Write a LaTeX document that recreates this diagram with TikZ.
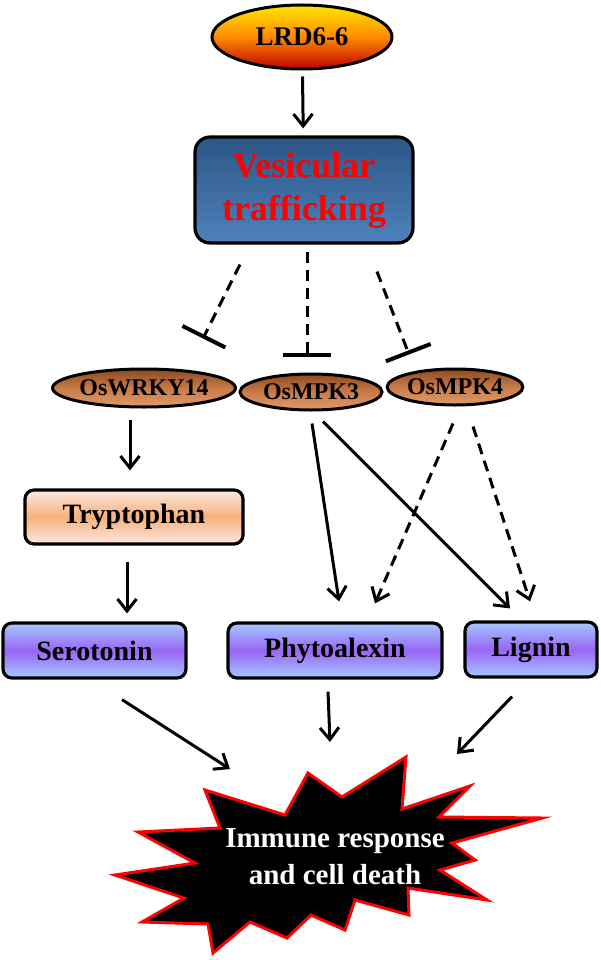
\documentclass[tikz,border=0pt]{standalone}
\usepackage{fontspec}
\setmainfont{Liberation Serif}
\usetikzlibrary{arrows.meta,shapes.geometric,calc}
\definecolor{vesTop}{HTML}{2B5785}
\definecolor{vesBot}{HTML}{4F81BD}
\definecolor{lrdTop}{HTML}{FFE600}
\definecolor{lrdMid}{HTML}{FF8A00}
\definecolor{lrdBot}{HTML}{C00000}
\definecolor{brTop}{HTML}{8B4A20}
\definecolor{brMid}{HTML}{C97A48}
\definecolor{brBot}{HTML}{DE9A6C}
\definecolor{trTop}{HTML}{FDE9E1}
\definecolor{trMid}{HTML}{F7B07C}
\definecolor{puTop}{HTML}{A6C8FF}
\definecolor{puMid}{HTML}{9966F5}
\definecolor{redtxt}{HTML}{FF0000}
\tikzset{
  arr/.style={line width=3pt, -{Straight Barb[length=12pt,width=19pt]}},
  darr/.style={arr, dash pattern=on 11pt off 7pt},
  inh/.style={line width=3pt, dash pattern=on 11pt off 7pt, -{Bar[width=48pt,line width=4pt]}},
  ell/.style={ellipse, draw=black, line width=3pt, inner sep=0pt, font=\bfseries\fontsize{24}{26}\selectfont},
  brown/.style={ell, top color=brTop, bottom color=brBot, middle color=brMid},
  box/.style={rectangle, rounded corners=9pt, draw=black, line width=3.2pt, inner sep=0pt, font=\bfseries\fontsize{28}{30}\selectfont},
  purple/.style={box, top color=puTop, bottom color=puTop, middle color=puMid}
}
\begin{document}
\begin{tikzpicture}[x=1pt,y=-1pt]
\useasboundingbox (0,0) rectangle (601,960);
% nodes
\node[ell, minimum width=180pt, minimum height=64pt, top color=lrdTop, bottom color=lrdBot, middle color=lrdMid,
      font=\bfseries\fontsize{27}{29}\selectfont] (lrd) at (302,37) {LRD6-6};
\node[box, rounded corners=15pt, minimum width=218pt, minimum height=106pt, top color=vesTop, bottom color=vesBot,
      align=center, text=redtxt, font=\bfseries\fontsize{36}{43}\selectfont] (ves) at (304,190) {Vesicular\\trafficking};
\node[brown, minimum width=178pt, minimum height=38pt] (wrky) at (144,388) {OsWRKY14};
\node[brown, minimum width=142pt, minimum height=36pt] (mpk3) at (311,392) {OsMPK3};
\node[brown, minimum width=134pt, minimum height=36pt] (mpk4) at (455,387) {OsMPK4};
\node[box, minimum width=218pt, minimum height=54pt, top color=trTop, bottom color=trTop, middle color=trMid] (tryp) at (134,517) {Tryptophan};
\node[purple, minimum width=183pt, minimum height=55pt] (sero) at (94.5,650.5) {Serotonin};
\node[purple, minimum width=214pt, minimum height=55pt] (phyto) at (335,650.5) {Phytoalexin};
\node[purple, minimum width=132pt, minimum height=55pt] (lig) at (531,649.5) {Lignin};
% starburst
\draw[fill=black, draw=red, line width=3pt, line join=miter, miter limit=20]
  (205,790) -- (285,815) -- (308,773) -- (342,797) -- (406,757) -- (402,809) -- (470,786) -- (439,817)
  -- (542,818) -- (452,843) -- (475,860) -- (440,870) -- (487,900) -- (408,888) -- (409,915) -- (355,900)
  -- (345,930) -- (311,915) -- (287,938) -- (250,922) -- (213,953) -- (208,924) -- (142,922) -- (184,898)
  -- (115,875) -- (195,863) -- (138,832) -- (220,828) -- cycle;
\node[text=white, align=center, font=\bfseries\fontsize{29}{37}\selectfont] (imm) at (335,857) {Immune response\\and cell death};
% connectors
\draw[arr, shorten <=6pt, shorten >=7pt] (lrd) -- (ves);
\draw[inh] ($(ves.south)+(-64,20)$) -- ($(wrky.north)+(59,-29)$);
\draw[inh] ($(ves.south)+(3,7)$) -- ($(mpk3.north)+(-4,-16)$);
\draw[inh] ($(ves.south)+(73,27)$) -- ($(mpk4.north)+(-46,-13)$);
\draw[arr] ($(wrky.south)+(-14,11)$) -- ($(tryp.north)+(-4,-18)$);
\draw[arr] ($(tryp.south)+(-7,16)$) -- ($(sero.north)+(32.5,-8)$);
\draw[arr] ($(mpk3.south)+(1,12)$) -- ($(phyto.north)+(4,-20)$);
\draw[arr] ($(mpk3.south)+(12,10)$) -- ($(lig.north)+(-21,-12)$);
\draw[darr] ($(mpk4.south)+(-2,17)$) -- ($(phyto.north)+(40,-18)$);
\draw[darr] ($(mpk4.south)+(18,20)$) -- ($(lig.north)+(-1,-19)$);
\draw[arr] ($(sero.south)+(27.5,20)$) -- ($(imm)+(-105,-88)$);
\draw[arr] ($(phyto.south)+(-7,12)$) -- ($(imm)+(-5,-115)$);
\draw[arr] ($(lig.south)+(-19,18)$) -- ($(imm)+(122,-103)$);
\end{tikzpicture}
\end{document}
